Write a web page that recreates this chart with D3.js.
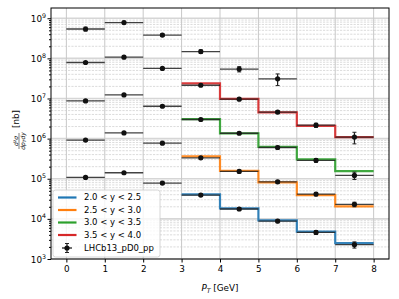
<!DOCTYPE html>
<html>
<head>
<meta charset="utf-8">
<script src="https://cdnjs.cloudflare.com/ajax/libs/d3/7.8.5/d3.min.js"></script>
<style>
    body { margin: 0; background: #fff; }
    svg { font-family: "DejaVu Sans", sans-serif; }
</style>
</head>
<body>
<div id="chart"></div>
<script>
    // pT bins [GeV]
    const binEdges = [0, 1, 2, 3, 4, 5, 6, 7, 8];
    const binCenters = [0.5, 1.5, 2.5, 3.5, 4.5, 5.5, 6.5, 7.5];

    // measured points (LHCb13_pD0_pp), one row per rapidity slice, null = no point
    const meas45 = [5.4e8, 7.8e8, 3.8e8, 1.48e8, 5.4e7, 3.1e7, null, null];
    const meas40 = [7.9e7, 1.07e8, 5.6e7, 2.14e7, 9.6e6, 4.6e6, 2.16e6, 1.09e6];
    const meas35 = [8.7e6, 1.23e7, 6.4e6, 3.0e6, 1.36e6, 6.0e5, 2.87e5, 1.21e5];
    const meas30 = [9.2e5, 1.39e6, 7.7e5, 3.33e5, 1.52e5, 8.4e4, 4.15e4, 2.3e4];
    const meas25 = [1.08e5, 1.41e5, 7.8e4, 3.92e4, 1.76e4, 8.8e3, 4.6e3, 2.27e3];

    const err45 = [6e7, 6e7, 3e7, 1.5e7, 8e6, 1e7, null, null];
    const err40 = [5e6, 7e6, 3e6, 1.5e6, 7e5, 4e5, 2.5e5, 3.5e5];
    const err35 = [5e5, 7e5, 4e5, 2e5, 1e5, 5e4, 3e4, 2.5e4];
    const err30 = [5e4, 8e4, 4e4, 2.5e4, 1.2e4, 7e3, 4e3, 3e3];
    const err25 = [7e3, 8e3, 5e3, 3e3, 1.5e3, 8e2, 5e2, 4e2];

    // prediction, step per bin from pT = 3 to 8
    const theoryEdges = [3, 4, 5, 6, 7, 8];
    const theory25 = [4.07e4, 1.83e4, 9.2e3, 4.8e3, 2.5e3];
    const theory30 = [3.6e5, 1.58e5, 8.1e4, 3.92e4, 2.05e4];
    const theory35 = [3.05e6, 1.35e6, 6.2e5, 3.03e5, 1.55e5];
    const theory40 = [2.37e7, 9.8e6, 4.49e6, 2.08e6, 1.09e6];

    const legendLabels = ["2.0 < y < 2.5", "2.5 < y < 3.0", "3.0 < y < 3.5", "3.5 < y < 4.0"];
    const dataLabel = "LHCb13_pD0_pp";
    const xTicks = [0, 1, 2, 3, 4, 5, 6, 7, 8];
    const yDecades = [3, 4, 5, 6, 7, 8, 9];

    const colors = ["#1f77b4", "#ff7f0e", "#2ca02c", "#d62728"];

    const width = 399, height = 299;
    const margin = { top: 8, right: 10, bottom: 40, left: 51 };

    const svg = d3.select("#chart").append("svg")
        .attr("width", width)
        .attr("height", height);

    const x = d3.scaleLinear().domain([-0.4, 8.4]).range([margin.left, width - margin.right]);
    const y = d3.scaleLog().domain([1e3, 1.8e9]).range([height - margin.bottom, margin.top]);

    // grid
    const minorVals = [];
    yDecades.forEach(p => {
        for (let k = 2; k <= 9; k++) {
            const v = k * Math.pow(10, p);
            if (v < y.domain()[1]) minorVals.push(v);
        }
    });
    const grid = svg.append("g");
    grid.selectAll(".minor").data(minorVals).enter().append("line")
        .attr("x1", margin.left).attr("x2", width - margin.right)
        .attr("y1", d => y(d)).attr("y2", d => y(d))
        .attr("stroke", "#c4c4c4").attr("stroke-width", 0.6)
        .attr("stroke-dasharray", "2.2,1.2");
    grid.selectAll(".major").data(yDecades.map(p => Math.pow(10, p))).enter().append("line")
        .attr("x1", margin.left).attr("x2", width - margin.right)
        .attr("y1", d => y(d)).attr("y2", d => y(d))
        .attr("stroke", "#d6d6d6").attr("stroke-width", 1.6);
    grid.selectAll(".vgrid").data(xTicks).enter().append("line")
        .attr("x1", d => x(d)).attr("x2", d => x(d))
        .attr("y1", margin.top).attr("y2", height - margin.bottom)
        .attr("stroke", "#c8c8c8").attr("stroke-width", 1);

    // prediction steps
    const theory = [theory25, theory30, theory35, theory40];
    const stepLine = d3.line()
        .x(d => x(d[0]))
        .y(d => y(d[1]))
        .curve(d3.curveStepAfter);
    theory.forEach((vals, i) => {
        const pts = theoryEdges.map((e, j) => [e, vals[Math.min(j, vals.length - 1)]]);
        svg.append("path")
            .attr("d", stepLine(pts))
            .attr("fill", "none")
            .attr("stroke", colors[i])
            .attr("stroke-width", 2.2)
            .attr("opacity", 0.9);
    });

    // measured points with error bars
    const rows = [[meas45, err45], [meas40, err40], [meas35, err35], [meas30, err30], [meas25, err25]];
    const ink = "#222";
    const pts = [];
    rows.forEach(([vals, errs]) => {
        vals.forEach((v, i) => {
            if (v !== null) pts.push({ x: binCenters[i], lo: binEdges[i], hi: binEdges[i + 1], v: v, e: errs[i] });
        });
    });
    const marks = svg.append("g");
    marks.selectAll(".hbar").data(pts).enter().append("line")
        .attr("x1", d => x(d.lo)).attr("x2", d => x(d.hi))
        .attr("y1", d => y(d.v)).attr("y2", d => y(d.v))
        .attr("stroke", ink).attr("stroke-width", 1.3).attr("opacity", 0.85);
    marks.selectAll(".vbar").data(pts).enter().append("line")
        .attr("x1", d => x(d.x)).attr("x2", d => x(d.x))
        .attr("y1", d => y(d.v + d.e)).attr("y2", d => y(Math.max(d.v - d.e, 1)))
        .attr("stroke", ink).attr("stroke-width", 1.2);
    ["top", "bot"].forEach(side => {
        marks.selectAll(".cap" + side).data(pts).enter().append("line")
            .attr("x1", d => x(d.x) - 2).attr("x2", d => x(d.x) + 2)
            .attr("y1", d => y(side === "top" ? d.v + d.e : d.v - d.e))
            .attr("y2", d => y(side === "top" ? d.v + d.e : d.v - d.e))
            .attr("stroke", ink).attr("stroke-width", 1);
    });
    marks.selectAll("circle").data(pts).enter().append("circle")
        .attr("cx", d => x(d.x)).attr("cy", d => y(d.v)).attr("r", 2.6)
        .attr("fill", "#111");

    // axes
    const xAxis = svg.append("g")
        .attr("transform", `translate(0,${height - margin.bottom})`)
        .call(d3.axisBottom(x).tickValues(xTicks).tickSize(3.5).tickPadding(3).tickFormat(d3.format("d")));
    xAxis.selectAll("text").attr("font-size", "8.8px").attr("fill", "#000").attr("font-family", "DejaVu Sans");
    xAxis.select(".domain").remove();

    const yAxis = svg.append("g")
        .attr("transform", `translate(${margin.left},0)`)
        .call(d3.axisLeft(y).tickValues(yDecades.map(p => Math.pow(10, p))).tickSize(3.5).tickFormat(""));
    yAxis.select(".domain").remove();
    svg.append("g")
        .attr("transform", `translate(${margin.left},0)`)
        .call(d3.axisLeft(y).tickValues(minorVals).tickSize(2).tickFormat(""))
        .select(".domain").remove();

    const yLabels = svg.append("g").attr("font-size", "8.8px");
    yDecades.forEach(p => {
        const t = yLabels.append("text")
            .attr("x", margin.left - 5)
            .attr("y", y(Math.pow(10, p)) + 3.5)
            .attr("text-anchor", "end");
        t.append("tspan").text("10");
        t.append("tspan").attr("dy", -4).attr("font-size", "6.3px").text(p);
    });

    // frame
    svg.append("rect")
        .attr("x", margin.left).attr("y", margin.top)
        .attr("width", width - margin.left - margin.right)
        .attr("height", height - margin.top - margin.bottom)
        .attr("fill", "none").attr("stroke", "#000").attr("stroke-width", 1);

    // x label
    const xl = svg.append("text")
        .attr("x", (margin.left + width - margin.right) / 2)
        .attr("y", 291)
        .attr("text-anchor", "middle")
        .attr("font-size", "8.8px");
    xl.append("tspan").attr("font-style", "italic").text("P");
    xl.append("tspan").attr("font-style", "italic").attr("font-size", "6.2px").attr("dy", 2).text("T");
    xl.append("tspan").attr("dy", -2).text(" [GeV]");

    // y label: fraction d2sigma / dpT dy  [nb]
    const yl = svg.append("g").attr("transform", "translate(19,137) rotate(-90)");
    yl.append("text").attr("x", -4).attr("y", -1.5).attr("text-anchor", "middle")
        .attr("font-size", "6px").attr("font-style", "italic").text("d²σ");
    const den = yl.append("text").attr("x", -4).attr("y", 5.5).attr("text-anchor", "middle")
        .attr("font-size", "6px").attr("font-style", "italic");
    den.append("tspan").text("dp");
    den.append("tspan").attr("font-size", "4.3px").attr("dy", 1.2).text("T");
    den.append("tspan").attr("dy", -1.2).text("dy");
    yl.append("line").attr("x1", -12).attr("x2", 4).attr("y1", 0).attr("y2", 0)
        .attr("stroke", "#000").attr("stroke-width", 0.5);
    yl.append("text").attr("x", 9).attr("y", 0).attr("font-size", "8.8px").text("[nb]");

    // legend
    const lg = svg.append("g");
    lg.append("rect")
        .attr("x", 53).attr("y", 190).attr("width", 107).attr("height", 67).attr("rx", 2.5)
        .attr("fill", "#fff").attr("fill-opacity", 0.8)
        .attr("stroke", "#cccccc").attr("stroke-width", 0.8);
    const rowY = [197.5, 210, 222.5, 235, 248];
    legendLabels.forEach((lab, i) => {
        lg.append("line").attr("x1", 58).attr("x2", 76.5)
            .attr("y1", rowY[i]).attr("y2", rowY[i])
            .attr("stroke", colors[i]).attr("stroke-width", 2.2);
        lg.append("text").attr("x", 84).attr("y", rowY[i]).attr("dy", "0.35em")
            .attr("font-size", "8.5px").text(lab);
    });
    const hy = rowY[4], hx = 67;
    lg.append("line").attr("x1", hx - 5).attr("x2", hx + 5).attr("y1", hy).attr("y2", hy)
        .attr("stroke", ink).attr("stroke-width", 1.3);
    lg.append("line").attr("x1", hx).attr("x2", hx).attr("y1", hy - 4.5).attr("y2", hy + 4.5)
        .attr("stroke", ink).attr("stroke-width", 1.2);
    [-4.5, 4.5].forEach(o => lg.append("line").attr("x1", hx - 2).attr("x2", hx + 2)
        .attr("y1", hy + o).attr("y2", hy + o).attr("stroke", ink).attr("stroke-width", 1));
    lg.append("circle").attr("cx", hx).attr("cy", hy).attr("r", 2.6).attr("fill", "#111");
    lg.append("text").attr("x", 84).attr("y", hy).attr("dy", "0.35em")
        .attr("font-size", "8.5px").text(dataLabel);
</script>
</body>
</html>
